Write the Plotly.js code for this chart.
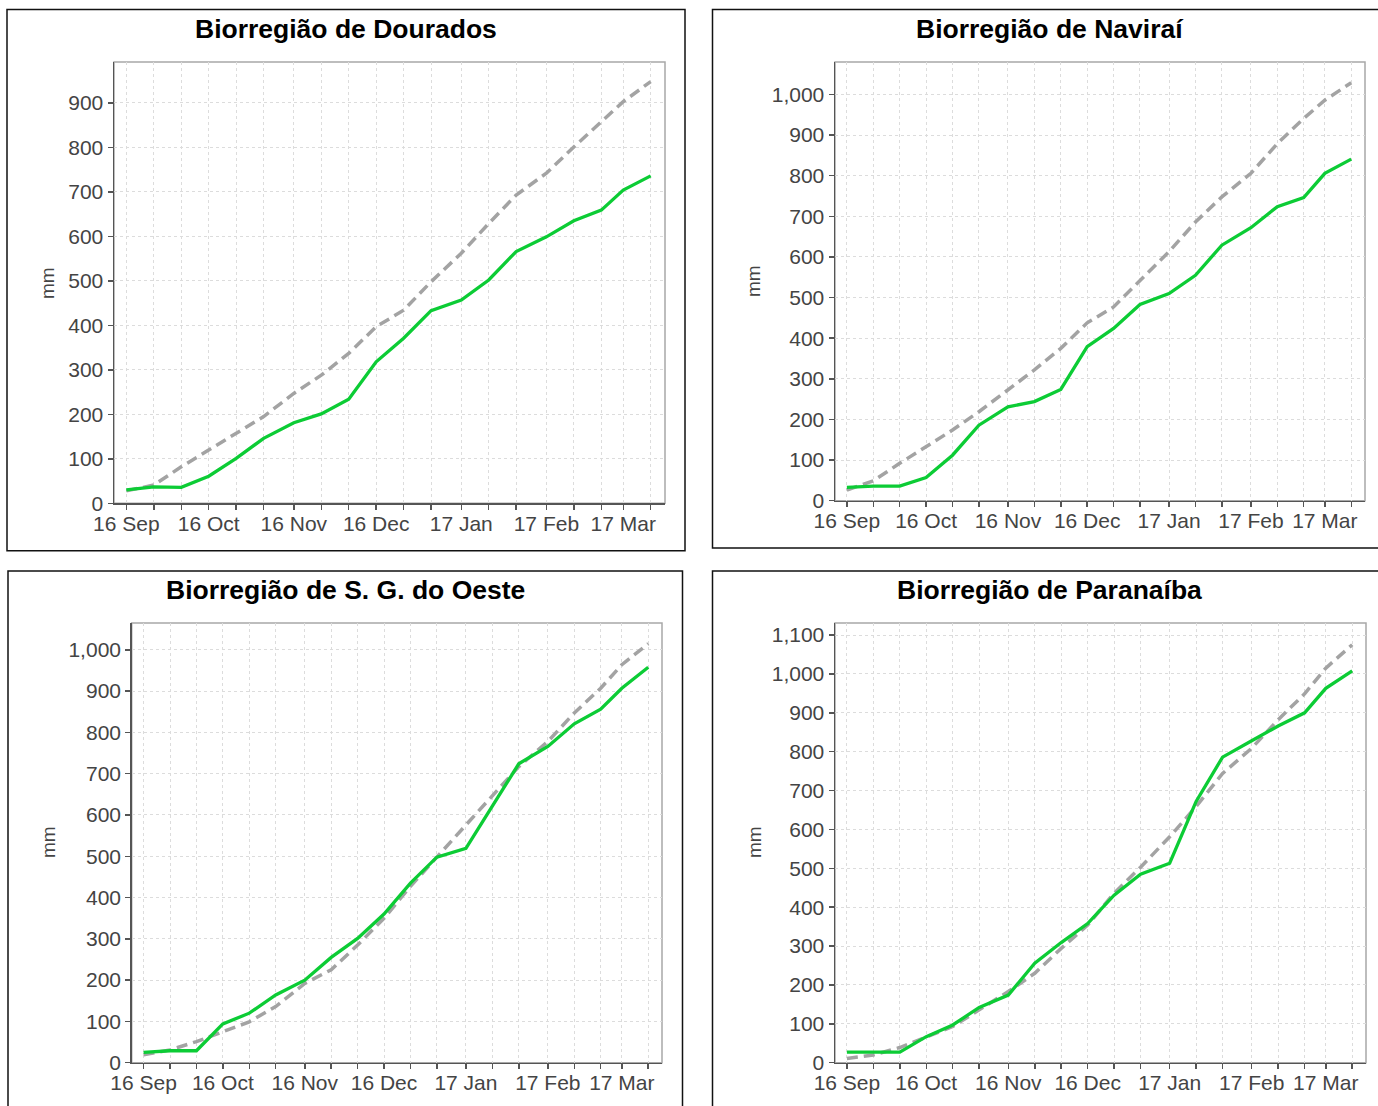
<!DOCTYPE html>
<html>
<head>
<meta charset="utf-8">
<script src="https://cdn.plot.ly/plotly-3.0.1.min.js"></script>
<style>
  html, body { margin: 0; padding: 0; background: #fff; }
  #chart { width: 1378px; height: 1106px; }
</style>
</head>
<body>
<div id="chart"></div>
<script>
// ---- data ----
const dates = ['2016-09-01','2016-09-11','2016-09-21','2016-10-01','2016-10-11','2016-10-21',
  '2016-11-01','2016-11-11','2016-11-21','2016-12-01','2016-12-11','2016-12-21',
  '2017-01-01','2017-01-11','2017-01-21','2017-02-01','2017-02-11','2017-02-21',
  '2017-03-01','2017-03-11'];
const tickLabels = ['16 Sep','','','16 Oct','','','16 Nov','','','16 Dec','','',
  '17 Jan','','','17 Feb','','','17 Mar',''];
const titles = ['Biorregião de Dourados','Biorregião de Naviraí',
  'Biorregião de S. G. do Oeste','Biorregião de Paranaíba'];
const yLabel = 'mm';

const douradosObs = [30,37,36,61,101,146,181,201,234,318,371,433,457,502,566,599,635,659,704,736];
const douradosAvg = [28,41,82,120,157,195,247,288,337,397,434,498,562,629,693,742,801,858,903,948];
const naviraiObs = [33,36,36,57,112,186,231,244,274,379,424,483,510,555,629,672,724,746,806,841];
const naviraiAvg = [26,49,92,133,174,219,272,322,375,438,477,543,613,686,748,806,879,941,986,1029];
const sgoObs = [25,29,29,94,120,164,200,255,301,360,435,498,519,622,724,766,821,856,907,958];
const sgoAvg = [19,31,51,75,99,136,192,225,285,350,427,498,576,645,717,778,847,907,964,1015];
const paranaibaObs = [27,27,27,67,97,142,174,256,309,358,431,485,513,672,786,828,866,900,963,1008];
const paranaibaAvg = [11,20,39,67,93,136,183,230,294,354,436,503,581,659,744,809,882,949,1015,1075];

const obsSeries = [douradosObs, naviraiObs, sgoObs, paranaibaObs];
const avgSeries = [douradosAvg, naviraiAvg, sgoAvg, paranaibaAvg];

// ---- layout geometry (pixels) ----
const W = 1378, H = 1106;
const px = v => v / W;
const py = v => 1 - v / H;

const plots = [
  {l:114, r:665, t:62, b:503.3, ymax:992,  box:[7,9.5,685,550.7],   title:[346,29],    mm:[48,283]},
  {l:835, r:1365, t:62, b:500.7, ymax:1080, box:[712.5,9.5,1386,548], title:[1049.5,29], mm:[754,281]},
  {l:131.7, r:662, t:623, b:1062.7, ymax:1065, box:[8,571,682.5,1115], title:[345.5,590], mm:[48,842]},
  {l:835, r:1366, t:623, b:1062.7, ymax:1131, box:[712.5,571,1386,1115], title:[1049.5,590], mm:[754,842]}
];

const FONT = 'Liberation Sans, Arial, sans-serif';
const traces = [];
const layout = {
  width: W, height: H,
  margin: {l:0, r:0, t:0, b:0},
  paper_bgcolor: '#ffffff',
  plot_bgcolor: '#ffffff',
  showlegend: false,
  font: {family: FONT, size: 21, color: '#444'},
  shapes: [], annotations: []
};

plots.forEach((p, i) => {
  const n = i + 1;
  const xa = 'x' + (n === 1 ? '' : n);
  const ya = 'y' + (n === 1 ? '' : n);
  traces.push({
    x: dates, y: avgSeries[i], type: 'scatter', mode: 'lines',
    xaxis: xa, yaxis: ya,
    line: {color: '#a3a3a3', width: 3.5, dash: '11px,6px'}, hoverinfo: 'skip'
  });
  traces.push({
    x: dates, y: obsSeries[i], type: 'scatter', mode: 'lines',
    xaxis: xa, yaxis: ya,
    line: {color: '#0ccc35', width: 3.3}, hoverinfo: 'skip'
  });
  const xKey = 'xaxis' + (n === 1 ? '' : n);
  const yKey = 'yaxis' + (n === 1 ? '' : n);
  layout[xKey] = {
    domain: [px(p.l), px(p.r)],
    anchor: ya,
    type: 'date',
    range: ['2016-08-27 12:00', '2017-03-16 05:00'],
    tickmode: 'array', tickvals: dates, ticktext: tickLabels,
    ticks: 'outside', ticklen: 5, tickwidth: 1.5, tickcolor: '#555',
    ticklabelstandoff: -4,
    showline: true, linecolor: '#555', linewidth: 1.5,
    showgrid: true, gridcolor: '#dcdcdc', gridwidth: 1, griddash: '3px,3px',
    zeroline: false,
    tickfont: {family: FONT, size: 21, color: '#444'},
    fixedrange: true
  };
  layout[yKey] = {
    domain: [py(p.b), py(p.t)],
    anchor: xa,
    range: [0, p.ymax],
    tickmode: 'linear', tick0: 0, dtick: 100,
    tickformat: ',d',
    ticks: 'outside', ticklen: 5, tickwidth: 1.5, tickcolor: '#555',
    showline: true, linecolor: '#555', linewidth: 1.5,
    showgrid: true, gridcolor: '#dcdcdc', gridwidth: 1, griddash: '3px,3px',
    zeroline: false,
    tickfont: {family: FONT, size: 21, color: '#444'},
    fixedrange: true
  };
  // light frame of plot area (top / right)
  layout.shapes.push({
    type: 'rect', xref: xa + ' domain', yref: ya + ' domain',
    x0: 0, x1: 1, y0: 0, y1: 1, line: {color: '#a8a8a8', width: 1.5}, layer: 'below'
  });
  // panel box
  layout.shapes.push({
    type: 'rect', xref: 'paper', yref: 'paper',
    x0: px(p.box[0]), x1: px(p.box[2]), y0: py(p.box[3]), y1: py(p.box[1]),
    line: {color: '#111', width: 1.5}
  });
  // panel title
  layout.annotations.push({
    xref: 'paper', yref: 'paper', x: px(p.title[0]), y: py(p.title[1]),
    xanchor: 'center', yanchor: 'middle', showarrow: false,
    text: '<b>' + titles[i] + '</b>',
    font: {family: FONT, size: 26.5, color: '#000'}
  });
  // y axis label
  layout.annotations.push({
    xref: 'paper', yref: 'paper', x: px(p.mm[0]), y: py(p.mm[1]),
    xanchor: 'center', yanchor: 'middle', showarrow: false, textangle: -90,
    text: yLabel, font: {family: FONT, size: 19, color: '#444'}
  });
});

Plotly.newPlot('chart', traces, layout, {displayModeBar: false, staticPlot: true});
</script>
</body>
</html>
